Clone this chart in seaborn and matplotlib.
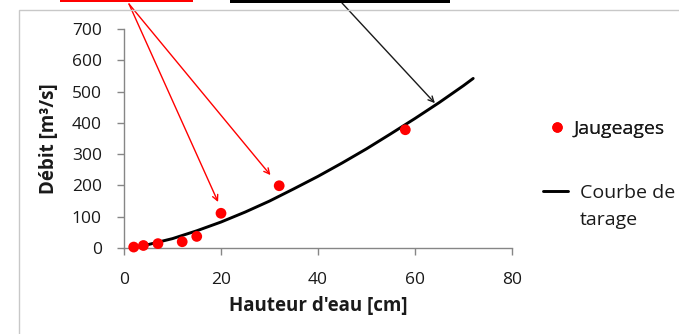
import numpy as np
import pandas as pd
import matplotlib
matplotlib.use("Agg")
import matplotlib.pyplot as plt
import seaborn as sns
from matplotlib.patches import Rectangle
from matplotlib.lines import Line2D

# Gauging measurements (water height in cm, discharge in m3/s)
hauteur_jaug = [2, 4, 7, 12, 15, 20, 32, 58]
debit_jaug = [3, 8, 14, 20, 37, 111, 199, 378]

# Rating curve
hauteur_courbe = [3, 5, 10, 15, 20, 25, 30, 35, 40, 45, 50, 55, 60, 65, 70, 72]
debit_courbe = [5, 11, 30, 55, 83, 115, 150, 189, 229, 272, 317, 365, 414, 465, 519, 542]

x_ticks = [0, 20, 40, 60, 80]
y_ticks = [0, 100, 200, 300, 400, 500, 600, 700]

TXT = "#1a1a1a"
W, H = 679, 334

sns.set_style("white")
plt.rcParams["font.family"] = ["Open Sans", "DejaVu Sans"]

fig = plt.figure(figsize=(6.79, 3.34), dpi=100)
ax = fig.add_axes([124 / W, 86 / H, 388 / W, 219 / H])

jaug = pd.DataFrame({"h": hauteur_jaug, "q": debit_jaug})
courbe = pd.DataFrame({"h": hauteur_courbe, "q": debit_courbe})

sns.lineplot(data=courbe, x="h", y="q", color="black", linewidth=2.1, ax=ax, zorder=3)
sns.scatterplot(data=jaug, x="h", y="q", color="#ff0000", s=60, edgecolor="none",
                ax=ax, zorder=4, clip_on=False)

ax.set_xlim(0, 80)
ax.set_ylim(0, 700)
ax.set_xticks(x_ticks)
ax.set_yticks(y_ticks)
ax.tick_params(axis="both", labelsize=12.5, colors=TXT, length=5,
               width=1, direction="out", color="#868686")
ax.tick_params(axis="x", pad=12)
ax.tick_params(axis="y", pad=11)
ax.tick_params(bottom=True, left=True)
for side in ["top", "right"]:
    ax.spines[side].set_visible(False)
for side in ["left", "bottom"]:
    ax.spines[side].set_color("#868686")
    ax.spines[side].set_linewidth(1)

ax.set_xlabel("Hauteur d'eau [cm]", fontsize=13.5, fontweight="bold", color=TXT)
ax.set_ylabel("Débit [m³/s]", fontsize=13.5, fontweight="bold", color=TXT)
ax.xaxis.set_label_coords(318 / W, 1 - 306 / H, transform=fig.transFigure)
ax.yaxis.set_label_coords(49 / W, 1 - 139 / H, transform=fig.transFigure)
ax.xaxis.label.set_va("center")
ax.yaxis.label.set_va("center")

# legend: one box per entry so the line sample sits on the first text line
fs_leg = 14
leg1 = fig.legend([Line2D([], [], marker="o", color="none", markerfacecolor="#ff0000",
                          markeredgecolor="none", markersize=7.5)],
                  ["Jaugeages"], loc="center left",
                  bbox_to_anchor=(549 / W, 1 - 129 / H), frameon=False, fontsize=fs_leg,
                  handlelength=0.8, handletextpad=0.45, borderpad=0, borderaxespad=0)
leg2 = fig.legend([Line2D([], [], color="black", linewidth=2.1)],
                  ["Courbe de"], loc="center left",
                  bbox_to_anchor=(543 / W, 1 - 193 / H), frameon=False, fontsize=fs_leg,
                  handlelength=1.3, handletextpad=0.6, borderpad=0, borderaxespad=0)
for t in leg1.get_texts() + leg2.get_texts():
    t.set_color(TXT)
fig.add_artist(leg1)
fig.canvas.draw()
bb = leg2.get_texts()[0].get_window_extent()
fig.text(bb.x0 / W, (bb.y0 - 27) / H, "tarage", fontsize=fs_leg, color=TXT,
         ha="left", va="bottom")

# chart frame (cropped screenshot)
fig.patches.append(Rectangle((19 / W, -0.2), 1.2, 1.2 - 10 / H,
                             transform=fig.transFigure, fill=False,
                             edgecolor="#c8c8c8", linewidth=1))

# red and black boxes cut off at the top
fig.patches.append(Rectangle((60 / W, 1 - 2 / H), 133 / W, 0.02,
                             transform=fig.transFigure, facecolor="#ff0000", edgecolor="none"))
fig.patches.append(Rectangle((230 / W, 1 - 3 / H), 220 / W, 0.02,
                             transform=fig.transFigure, facecolor="black", edgecolor="none"))

# arrows
ax.annotate("", xy=(19.4, 147), xycoords="data", xytext=(129, 330),
            textcoords="figure pixels",
            arrowprops=dict(arrowstyle="->", color="#ff0000", lw=1, shrinkA=0, shrinkB=0))
ax.annotate("", xy=(30.2, 233), xycoords="data", xytext=(129, 330),
            textcoords="figure pixels",
            arrowprops=dict(arrowstyle="->", color="#ff0000", lw=1, shrinkA=0, shrinkB=0))
ax.annotate("", xy=(64.1, 463), xycoords="data", xytext=(342, 331),
            textcoords="figure pixels",
            arrowprops=dict(arrowstyle="->", color=TXT, lw=1, shrinkA=0, shrinkB=0))

fig.savefig("out.png", dpi=100)
